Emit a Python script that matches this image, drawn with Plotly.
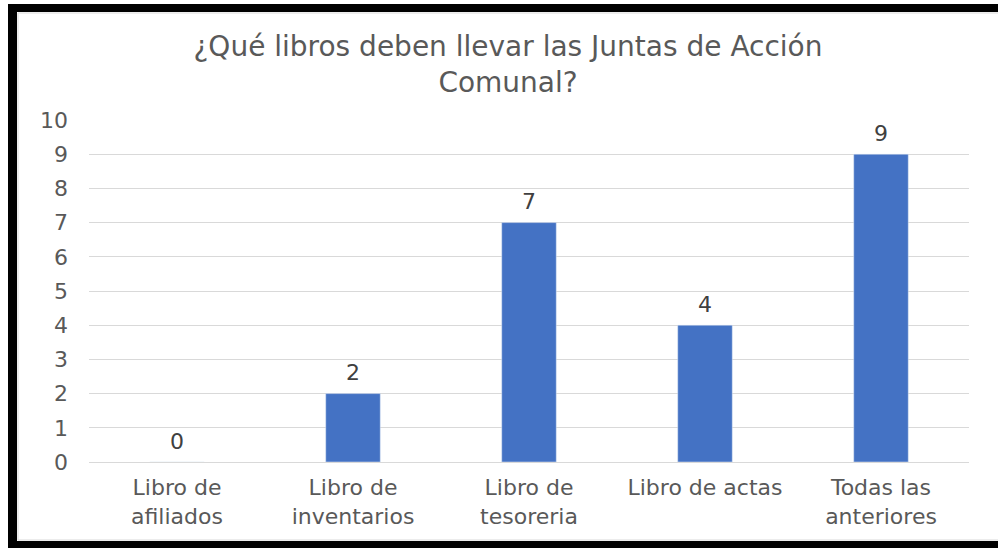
import plotly.graph_objects as go

categories = ["Libro de<br>afiliados", "Libro de<br>inventarios", "Libro de<br>tesoreria", "Libro de actas", "Todas las<br>anteriores"]
values = [0, 2, 7, 4, 9]
y_ticks = list(range(0, 11))

W, H = 998, 548
# plot area in reference pixel coords
PX0, PX1, PY0, PY1 = 89, 969, 120, 462
L, R, T, B = PX0, W - PX1, PY0, H - PY1
pw, ph = W - L - R, H - T - B

FONT = "DejaVu Sans, Verdana, Arial"

def px(x):
    return (x - L) / pw

def py(y):
    return (H - B - y) / ph

fig = go.Figure()
fig.add_trace(go.Bar(x=categories, y=values, marker_color="#4472C4", width=0.31, hoverinfo="skip"))

for c, v in zip(categories, values):
    fig.add_annotation(x=c, y=v, text=str(v), showarrow=False, yanchor="middle", yshift=21,
                       font=dict(family=FONT, size=22, color="#404040"))

shapes = []
# black frame
for (x0, y0, x1, y1) in [(8, 4, W, 12), (8, 4, 17, H), (8, 541, W, H)]:
    shapes.append(dict(type="rect", xref="paper", yref="paper", x0=px(x0), x1=px(x1), y0=py(y1), y1=py(y0),
                       fillcolor="black", line_width=0, layer="above"))
# faint inner lines
shapes.append(dict(type="line", xref="paper", yref="paper", x0=px(18), x1=px(18), y0=py(540), y1=py(13),
                   line=dict(color="#d9d9d9", width=1)))
shapes.append(dict(type="line", xref="paper", yref="paper", x0=px(18), x1=px(W), y0=py(13), y1=py(13),
                   line=dict(color="#d9d9d9", width=1)))
shapes.append(dict(type="line", xref="paper", yref="paper", x0=px(18), x1=px(W), y0=py(540), y1=py(540),
                   line=dict(color="#d9d9d9", width=1)))

fig.update_layout(
    width=W, height=H,
    margin=dict(l=L, r=R, t=T, b=B, autoexpand=False),
    paper_bgcolor="white", plot_bgcolor="white",
    showlegend=False,
    bargap=0.69,
    title=dict(text="¿Qué libros deben llevar las Juntas de Acción<br>Comunal?",
               x=508 / W, xanchor="center", xref="container",
               y=1 - 56 / H, yanchor="top", yref="container",
               font=dict(family=FONT, size=28, color="#595959")),
    font=dict(family=FONT, color="#595959"),
    shapes=shapes,
)
fig.update_xaxes(showgrid=False, showline=True, linecolor="#d9d9d9", linewidth=1,
                 tickfont=dict(size=22, color="#595959"), ticks="", ticklabelstandoff=6)
fig.update_yaxes(range=[0, 10], tickvals=y_ticks, showgrid=True, gridcolor="#d9d9d9", gridwidth=1,
                 zeroline=False, showline=False, tickfont=dict(size=22, color="#595959"),
                 ticks="", ticklabelstandoff=20)

fig.write_html("out.html", config={"displayModeBar": False},
               post_script="document.body.style.margin='0';document.body.style.overflow='hidden';")
